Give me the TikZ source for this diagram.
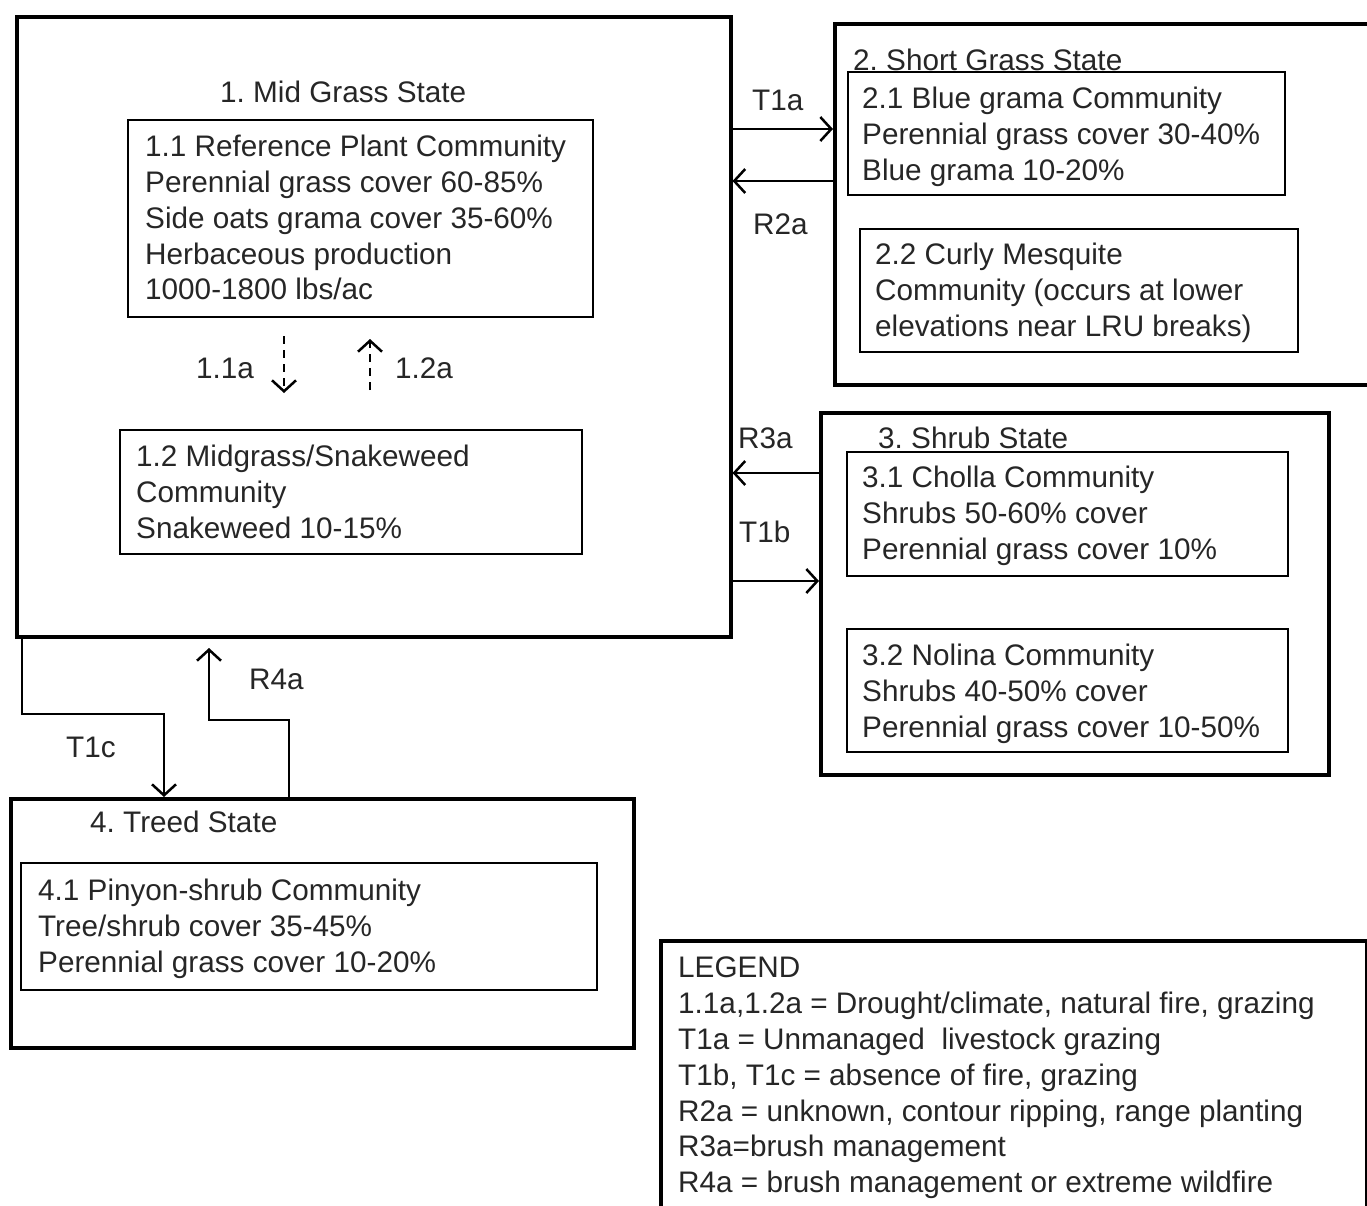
\documentclass[tikz,border=0pt]{standalone}
\usepackage{fontspec}
\setmainfont{Liberation Sans}
\usetikzlibrary{arrows.meta}
\begin{document}
\frenchspacing
\begin{tikzpicture}[x=1pt,y=-1pt,
  statebox/.style={draw, line width=3.5pt, anchor=north west, inner sep=0pt},
  commbox/.style={draw, line width=2pt, anchor=north west, inner sep=0pt},
  txt/.style={anchor=west, inner sep=0pt, text=black!85, font=\fontsize{29.7}{36}\selectfont},
  ml/.style={anchor=north west, inner sep=0pt, align=left, text=black!85, font=\fontsize{29.7}{35.8}\selectfont},
  conn/.style={line width=2.5pt, -{Straight Barb[length=11pt,width=24pt,line width=2.5pt]}},
  dconn/.style={line width=2.5pt, dash pattern=on 8pt off 6pt, -{Straight Barb[length=11pt,width=24pt,line width=2.5pt]}}
]
\useasboundingbox (0,0) rectangle (1367,1205);
\begin{scope}
\clip (0,0) rectangle (1367,1205);
% State boxes
\node[statebox, minimum width=714pt, minimum height=620pt] (s1) at (15,15) {};
\node[statebox, minimum width=560pt, minimum height=361pt] (s2) at (833,22) {};
\node[statebox, minimum width=508pt, minimum height=362pt] (s3) at (819,411) {};
\node[statebox, minimum width=623pt, minimum height=249pt] (s4) at (9,797) {};
\node[statebox, minimum width=706pt, minimum height=300pt] (lg) at (659,939) {};
\end{scope}
% Community boxes
\node[commbox, minimum width=465pt, minimum height=197pt] (c11) at (127,119) {};
\node[commbox, minimum width=462pt, minimum height=124pt] (c12) at (119,429) {};
\node[commbox, minimum width=437pt, minimum height=123pt] (c21) at (847,71) {};
\node[commbox, minimum width=438pt, minimum height=123pt] (c22) at (859,228) {};
\node[commbox, minimum width=441pt, minimum height=124pt] (c31) at (846,451) {};
\node[commbox, minimum width=441pt, minimum height=123pt] (c32) at (846,628) {};
\node[commbox, minimum width=576pt, minimum height=127pt] (c41) at (20,862) {};
% State titles
\node[txt] (t1) at (220,92) {1. Mid Grass State};
\node[txt] (t2) at (853,60) {2. Short Grass State};
\node[txt] (t3) at (878,438) {3. Shrub State};
\node[txt] (t4) at (90,822) {4. Treed State};
% Community texts
\node[ml] (x11) at (145,135) {1.1 Reference Plant Community\\Perennial grass cover 60-85\%\\Side oats grama cover 35-60\%\\Herbaceous production\\1000-1800 lbs/ac};
\node[ml] (x12) at (136,445) {1.2 Midgrass/Snakeweed\\Community\\Snakeweed 10-15\%};
\node[ml] (x21) at (862,87) {2.1 Blue grama Community\\Perennial grass cover 30-40\%\\Blue grama 10-20\%};
\node[ml] (x22) at (875,243) {2.2 Curly Mesquite\\Community (occurs at lower\\elevations near LRU breaks)};
\node[ml] (x31) at (862,466) {3.1 Cholla Community\\Shrubs 50-60\% cover\\Perennial grass cover 10\%};
\node[ml] (x32) at (862,644) {3.2 Nolina Community\\Shrubs 40-50\% cover\\Perennial grass cover 10-50\%};
\node[ml] (x41) at (38,879) {4.1 Pinyon-shrub Community\\Tree/shrub cover 35-45\%\\Perennial grass cover 10-20\%};
\node[ml] (xlg) at (678,957) {LEGEND\\1.1a,1.2a = Drought/climate, natural fire, grazing\\T1a = Unmanaged\ \ livestock grazing\\T1b, T1c = absence of fire, grazing\\R2a = unknown, contour ripping, range planting\\R3a=brush management\\R4a = brush management or extreme wildfire};
% Connector labels
\node[txt] (l11) at (196,368) {1.1a};
\node[txt] (l12) at (395,368) {1.2a};
\node[txt] (lT1a) at (752,100) {T1a};
\node[txt] (lR2a) at (753,224) {R2a};
\node[txt] (lR3a) at (738,438) {R3a};
\node[txt] (lT1b) at (739,532) {T1b};
\node[txt] (lT1c) at (66,747) {T1c};
\node[txt] (lR4a) at (249,679) {R4a};
% Coordinates for connectors
\coordinate (d1a) at (284,336);
\coordinate (d1b) at (284,393);
\coordinate (d2a) at (370,390);
\coordinate (d2b) at (370,339);
% Connectors
\draw[dconn] (d1a) -- (d1b);
\draw[dconn] (d2a) -- (d2b);
\draw[conn] (s1.east |- 0,129) -- (s2.west |- 0,129);
\draw[conn] (s2.west |- 0,181) -- (s1.east |- 0,181);
\draw[conn] (s3.west |- 0,473) -- (s1.east |- 0,473);
\draw[conn] (s1.east |- 0,581) -- (s3.west |- 0,581);
\draw[conn] (22,635) |- (164,714) -- (164,797);
\draw[conn] (289,797) |- (209,720) -- (209,648);
\end{tikzpicture}
\end{document}
